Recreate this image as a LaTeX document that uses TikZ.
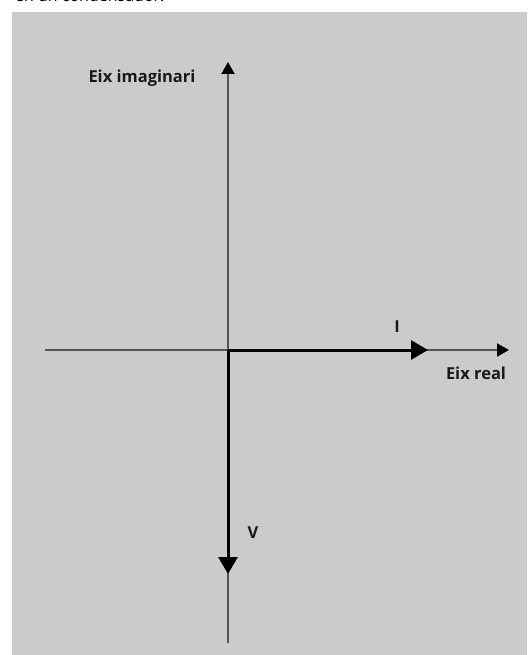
\documentclass[tikz,border=0pt]{standalone}
\usepackage{fontspec}
\setmainfont{Open Sans}
\usepackage{tikz}
\usetikzlibrary{arrows.meta,positioning}
\definecolor{panel}{RGB}{203,203,203}
\definecolor{axisgrey}{RGB}{85,85,85}
\tikzset{
	axis/.style={
		draw=axisgrey, line width=2pt,
		-{Triangle[length=12pt,width=13pt,color=black]}
	},
	phasor/.style={
		draw=black, line width=3pt,
		-{Triangle[length=17pt,width=19pt]}
	},
	lbl/.style={
		font=\bfseries\fontsize{16.5}{19}\selectfont, text=black!90,
		inner sep=0pt
	}
}
\begin{document}
\begin{tikzpicture}[x=1pt,y=-1pt]
				\useasboundingbox (0,0) rectangle (527,655);
				\begin{scope}
					\clip (0,0) rectangle (527,655);
					\node[anchor=base west, inner sep=0pt, font=\fontsize{16}{18}\selectfont] (caption) at (15,2) {en un condensador.};
				\end{scope}
				\fill[panel] (12,12) rectangle (527,655);
				\coordinate (O)    at (228,350);
				\coordinate (xmin) at (45,350);
				\coordinate (xmax) at (509,350);
				\coordinate (ymin) at (228,643);
				\coordinate (ymax) at (228,62);
				\coordinate (Itip) at (428,350);
				\coordinate (Vtip) at (228,574);
				\draw[axis] (xmin) -- (xmax);
				\draw[axis] (ymin) -- (ymax);
				\draw[phasor] (O) -- (Itip);
				\draw[phasor] (O) -- (Vtip);
				\node[lbl] (I)     at (397,327) {I};
				\node[lbl] (V)     at (253,533) {V};
				\node[lbl] (re)    at (476,373) {Eix real};
				\node[lbl] (im)    at (142,78)  {Eix imaginari};
			\end{tikzpicture}
\end{document}
